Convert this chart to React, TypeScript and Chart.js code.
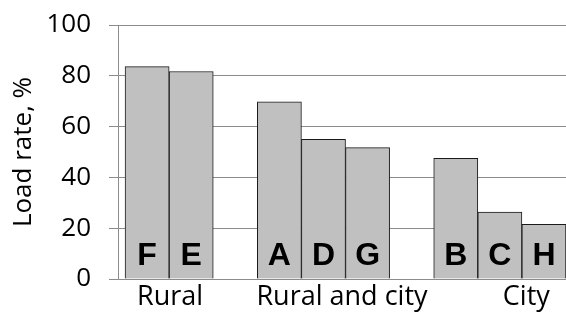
import React, { useEffect, useRef } from "react";
import { Chart, registerables } from "chart.js";

Chart.register(...registerables);

const barLetters = ["F", "E", "A", "D", "G", "B", "C", "H"];
const barSlots = [0, 1, 3, 4, 5, 7, 8, 9];
const loadRates = [83.6, 81.7, 69.8, 55.0, 51.7, 47.5, 26.3, 21.5];
const groupLabels = ["Rural", "Rural and city", "City"];
const groupPos = [0.52, 4.42, 8.6];
const yTicks = [0, 20, 40, 60, 80, 100];

const letterPlugin = {
  id: "letters",
  afterDatasetsDraw(chart: any) {
    const ctx = chart.ctx;
    const meta = chart.getDatasetMeta(0);
    const y0 = chart.scales.y.getPixelForValue(0);
    ctx.save();
    ctx.font = "bold 32px 'Liberation Sans', Arial, sans-serif";
    ctx.fillStyle = "#000";
    ctx.textAlign = "center";
    ctx.textBaseline = "alphabetic";
    meta.data.forEach((el: any, i: number) => {
      ctx.fillText(barLetters[i], el.x, y0 - 14);
    });
    ctx.restore();
  },
};

export default function App() {
  const ref = useRef<HTMLCanvasElement>(null);
  useEffect(() => {
    const chart = new Chart(ref.current!, {
      type: "bar",
      data: {
        datasets: [
          {
            data: barSlots.map((s, i) => ({ x: s, y: loadRates[i] })),
            backgroundColor: "#c0c0c0",
            borderColor: "#1a1a1a",
            borderWidth: 1,
            barPercentage: 1,
            categoryPercentage: 1,
          },
        ],
      },
      options: {
        animation: false,
        responsive: false,
        maintainAspectRatio: false,
        layout: { padding: { top: 25, right: 0, left: 0, bottom: 0 } },
        plugins: { legend: { display: false }, tooltip: { enabled: false } },
        scales: {
          x: {
            type: "linear",
            min: -0.66,
            max: 9.5,
            offset: false,
            bounds: "data",
            grid: { display: false, drawTicks: false },
            border: { display: false },
            afterDataLimits: (s: any) => {
              s.min = -0.66;
              s.max = 9.5;
            },
            afterBuildTicks: (s: any) => {
              s.ticks = groupPos.map((v) => ({ value: v }));
              s.min = -0.66;
              s.max = 9.5;
            },
            afterFit: (s: any) => {
              s.height = 33;
              s.paddingTop = 0;
              s.paddingBottom = 0;
            },
            ticks: {
              autoSkip: false,
              maxRotation: 0,
              padding: 2,
              color: "#000",
              font: { family: "'Open Sans'", size: 27 },
              callback: (v: any) => {
                const i = groupPos.indexOf(Number(v));
                return i >= 0 ? groupLabels[i] : "";
              },
            },
          },
          y: {
            min: 0,
            max: 100,
            afterBuildTicks: (s: any) => {
              s.ticks = yTicks.map((v) => ({ value: v }));
            },
            afterFit: (s: any) => {
              s.width = 118;
              s.paddingTop = 0;
              s.paddingBottom = 0;
            },
            grid: { color: "#8c8c8c", lineWidth: 1, tickLength: 9 },
            border: { display: true, color: "#8c8c8c", width: 1 },
            title: {
              display: true,
              text: "Load rate, %",
              color: "#000",
              font: { family: "'Open Sans'", size: 26 },
              padding: { top: 8, bottom: 0 },
            },
            ticks: {
              color: "#000",
              padding: 18,
              font: { family: "'Open Sans'", size: 26 },
            },
          },
        },
      },
      plugins: [letterPlugin],
    });
    return () => chart.destroy();
  }, []);
  return (
    <div style={{ position: "absolute", left: 0, top: 0, width: 566, height: 312, background: "#fff" }}>
      <canvas ref={ref} width={566} height={312} />
    </div>
  );
}
